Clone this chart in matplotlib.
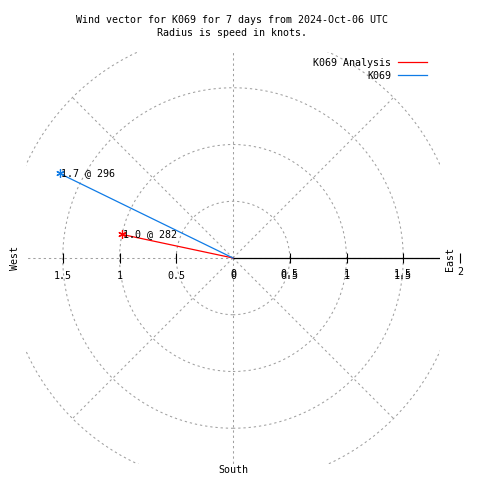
import numpy as np
import matplotlib
matplotlib.use("Agg")
import matplotlib.pyplot as plt
from matplotlib.patches import Circle

# ---- data ----
series_names = ["K069 Analysis", "K069"]
speeds = [1.0, 1.7]          # knots
directions = [282, 296]      # degrees
series_colors = ["#ff0000", "#0f7be6"]
ring_radii = [0.5, 1.0, 1.5, 2.0]
spoke_bearings = [0, 45, 90, 135, 180, 225, 270, 315]
tick_values = [0.5, 1.0, 1.5]
tick_labels = ["0.5", "1", "1.5"]
title_lines = ["Wind vector for K069 for 7 days from 2024-Oct-06 UTC",
               "Radius is speed in knots."]

FONT = ["DejaVu Sans Mono"]
FS = 7.2
W = H = 480
plt.rcParams['font.family'] = FONT

fig = plt.figure(figsize=(4.8, 4.8), dpi=100)
# axes box in pixels: x 26..440, y 52..464 ; center at (233, 258); 113.5 px / knot
scale = 113.5
cx, cy = 233, 258
l, r, t, b = 26, 440, 52, 464
ax = fig.add_axes([l / W, (H - b) / H, (r - l) / W, (b - t) / H])
ax.set_xlim((l - cx) / scale, (r - cx) / scale)
ax.set_ylim((cy - b) / scale, (cy - t) / scale)
ax.axis('off')

grid_kw = dict(color="#a0a0a0", lw=0.75, dashes=(2.2, 2.8))

# rings
for rr in ring_radii:
    c = Circle((0, 0), rr, fill=False, edgecolor="#a0a0a0", lw=0.75,
               linestyle=(0, (2.2, 2.8)))
    ax.add_patch(c)

# spokes (clipped by axes)
for bdeg in spoke_bearings:
    a = np.deg2rad(bdeg)
    rmax = 2.0 if bdeg % 90 else 3.0
    ax.plot([0, rmax * np.sin(a)], [0, rmax * np.cos(a)], **grid_kw)

# east solid axis
ax.plot([0, 3], [0, 0], color="black", lw=0.9)

# ticks
ax.plot(tick_values, [0] * len(tick_values), linestyle="none", marker="|",
        color="black", markersize=7.5, markeredgewidth=0.8)
ax.plot([-v for v in tick_values], [0] * len(tick_values), linestyle="none",
        marker="|", color="black", markersize=7.5, markeredgewidth=0.8)
ax.plot([2.0], [0], linestyle="none", marker="|", color="black",
        markersize=7.5, markeredgewidth=0.8, clip_on=False)

# tick labels (the east side is drawn twice, slightly offset, as in the source)
for v, lab in zip(tick_values, tick_labels):
    ax.annotate(lab, xy=(-v, 0), xytext=(0, -18), textcoords="offset pixels",
                ha="center", va="center", fontsize=FS)
    for dy in (-18, -16):
        ax.annotate(lab, xy=(v, 0), xytext=(0, dy), textcoords="offset pixels",
                    ha="center", va="center", fontsize=FS)
for dy in (-18, -16):
    ax.annotate("0", xy=(0, 0), xytext=(0, dy), textcoords="offset pixels",
                ha="center", va="center", fontsize=FS)
ax.annotate("2", xy=(2.0, 0), xytext=(0, -14), textcoords="offset pixels",
            ha="center", va="center", fontsize=FS, annotation_clip=False)

# vectors
for name, s, d, col in zip(series_names, speeds, directions, series_colors):
    a = np.deg2rad(d)
    x, y = s * np.sin(a), s * np.cos(a)
    ax.plot([0, x], [0, y], color=col, lw=0.9)
    ax.plot([x], [y], marker=(6, 2, 0), color=col, markersize=6,
            markeredgewidth=0.9, linestyle="none")
    ax.annotate(f"{s:.1f} @ {d}", xy=(x, y), xytext=(1, 0),
                textcoords="offset pixels", ha="left", va="center", fontsize=FS)

# compass labels
fig.text(15 / W, 1 - 258 / H, "West", rotation=90, ha="center", va="center", fontsize=FS)
fig.text(450 / W, 1 - 259 / H, "East", rotation=90, ha="center", va="center", fontsize=FS)
fig.text(233 / W, 1 - 470 / H, "South", ha="center", va="center", fontsize=FS)

# title
fig.text(232 / W, 1 - 20 / H, title_lines[0], ha="center", va="center", fontsize=FS)
fig.text(232 / W, 1 - 33 / H, title_lines[1], ha="center", va="center", fontsize=FS)

# legend
for i, (name, col) in enumerate(zip(series_names, series_colors)):
    yp = 63 + 13 * i
    fig.text(391 / W, 1 - yp / H, name, ha="right", va="center", fontsize=FS)
    fig.add_artist(plt.Line2D([398 / W, 427 / W], [1 - (yp - 1) / H, 1 - (yp - 1) / H],
                              color=col, lw=0.9, transform=fig.transFigure))

fig.savefig("out.png", dpi=100, facecolor="white")
